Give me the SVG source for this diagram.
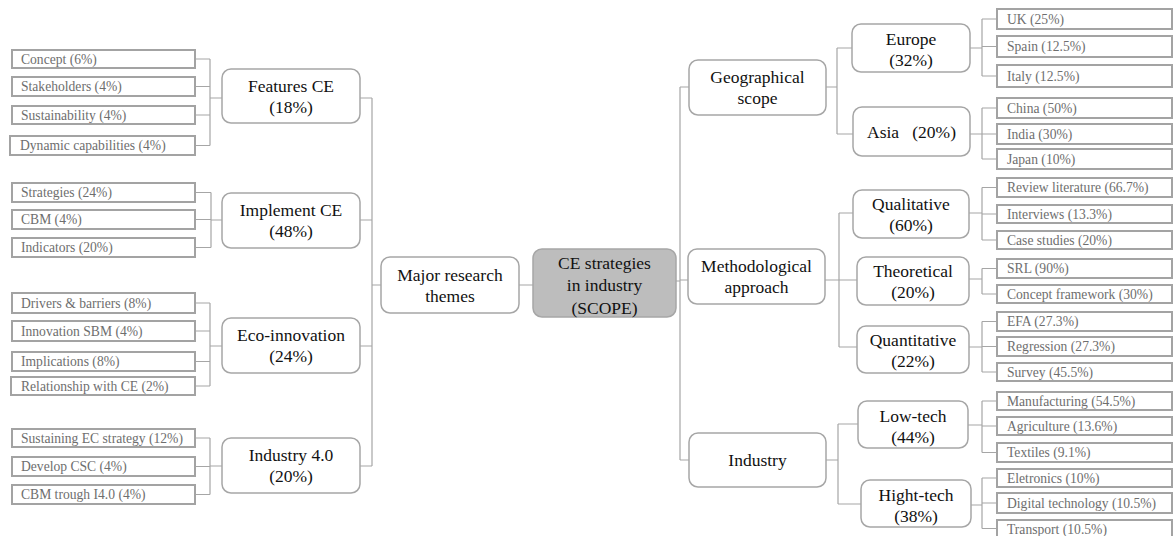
<svg xmlns="http://www.w3.org/2000/svg" width="1174" height="536" viewBox="0 0 1174 536">
<style>
.node{fill:#fff;stroke:#a6a6a6;stroke-width:1.5}
.center{fill:#bdbdbd;stroke:#a6a6a6;stroke-width:1.5}
.leaf{fill:#fff;stroke:#a3a3a3;stroke-width:2}
.nt{font-family:"Liberation Serif","Times New Roman",serif;font-size:17.5px;fill:#111;text-anchor:middle}
.lt{font-family:"Liberation Serif","Times New Roman",serif;font-size:13.6px;fill:#6e6e6e}
.con{fill:none;stroke:#a6a6a6;stroke-width:1.2}
</style>
<rect width="1174" height="536" fill="#fff"/>
<g id="connectors" class="con">
<path d="M195 59H210M195 86.5H210M195 115H210M195 145.5H210M210 59V145.5M210 98H222"/>
<path d="M195 192.5H211M195 219.5H211M195 247.5H211M211 192.5V247.5M211 220H222"/>
<path d="M195 303H210M195 331H210M195 361.5H210M195 386H210M210 303V386M210 346H222"/>
<path d="M195 438H210M195 466.5H210M195 494.5H210M210 438V494.5M210 466H222"/>
<path d="M360 98H372M360 220H372M360 346H372M360 466H372M372 98V466M372 285H381"/>
<path d="M519 285H533M676 281H680M680 87V460M680 87H689M680 280H688M680 460H689"/>
<path d="M826 87H837M837 48V134M837 48H852M837 134H853"/>
<path d="M970 48H982M982 19V76M982 19H997M982 46.5H997M982 76H997"/>
<path d="M970 134H982M982 108V159M982 108H997M982 134H997M982 159H997"/>
<path d="M825 280H839M839 213V347M839 213H853M839 280H857M839 347H857"/>
<path d="M969 213H982M982 187.5V240M982 187.5H997M982 214H997M982 240H997"/>
<path d="M969 279H982M982 268.5V294M982 268.5H997M982 294H997"/>
<path d="M969 347H982M982 321.5V372M982 321.5H997M982 346.5H997M982 372H997"/>
<path d="M826 460H838M838 424V504M838 424H858M838 504H861"/>
<path d="M968 425H982M982 401V452.5M982 401H997M982 426H997M982 452.5H997"/>
<path d="M971 505H982M982 478V528.5M982 478H997M982 503H997M982 528.5H997"/>
</g>
<g id="center"><rect class="center" x="533" y="249" width="143" height="68" rx="9"/><text class="nt" x="604.5" y="268.5">CE strategies</text><text class="nt" x="604.5" y="291">in industry</text><text class="nt" x="604.5" y="313.5">(SCOPE)</text></g>
<g id="major"><rect class="node" x="381" y="257" width="138" height="56" rx="9"/><text class="nt" x="450" y="281">Major research</text><text class="nt" x="450" y="302">themes</text></g>
<g id="features"><rect class="node" x="222" y="69" width="138" height="54" rx="9"/><text class="nt" x="291" y="92">Features CE</text><text class="nt" x="291" y="113">(18%)</text></g>
<g id="implement"><rect class="node" x="222" y="193" width="138" height="55" rx="9"/><text class="nt" x="291" y="216">Implement CE</text><text class="nt" x="291" y="237">(48%)</text></g>
<g id="eco"><rect class="node" x="222" y="318" width="138" height="55" rx="9"/><text class="nt" x="291" y="341">Eco-innovation</text><text class="nt" x="291" y="362">(24%)</text></g>
<g id="i40"><rect class="node" x="222" y="438" width="138" height="55" rx="9"/><text class="nt" x="291" y="461">Industry 4.0</text><text class="nt" x="291" y="482">(20%)</text></g>
<g id="geo"><rect class="node" x="689" y="60" width="137" height="55" rx="9"/><text class="nt" x="757.5" y="83">Geographical</text><text class="nt" x="757.5" y="104">scope</text></g>
<g id="method"><rect class="node" x="688" y="249" width="137" height="55" rx="9"/><text class="nt" x="756.5" y="272">Methodological</text><text class="nt" x="756.5" y="293">approach</text></g>
<g id="industry"><rect class="node" x="689" y="433" width="137" height="54" rx="9"/><text class="nt" x="757.5" y="466">Industry</text></g>
<g id="europe"><rect class="node" x="852" y="24" width="118" height="48" rx="9"/><text class="nt" x="911" y="45">Europe</text><text class="nt" x="911" y="66">(32%)</text></g>
<g id="asia"><rect class="node" x="853" y="107" width="117" height="49" rx="9"/><text class="nt" x="911.5" y="138" xml:space="preserve">Asia   (20%)</text></g>
<g id="qual"><rect class="node" x="853" y="190" width="116" height="48" rx="9"/><text class="nt" x="911" y="210">Qualitative</text><text class="nt" x="911" y="231">(60%)</text></g>
<g id="theo"><rect class="node" x="857" y="257" width="112" height="48" rx="9"/><text class="nt" x="913" y="277">Theoretical</text><text class="nt" x="913" y="298">(20%)</text></g>
<g id="quant"><rect class="node" x="857" y="326" width="112" height="47" rx="9"/><text class="nt" x="913" y="346">Quantitative</text><text class="nt" x="913" y="367">(22%)</text></g>
<g id="lowtech"><rect class="node" x="858" y="401" width="110" height="47" rx="9"/><text class="nt" x="913" y="422">Low-tech</text><text class="nt" x="913" y="443">(44%)</text></g>
<g id="hightech"><rect class="node" x="861" y="480" width="110" height="47" rx="9"/><text class="nt" x="916" y="501">Hight-tech</text><text class="nt" x="916" y="522">(38%)</text></g>
<g id="leaf-concept"><rect class="leaf" x="12" y="50" width="183" height="18"/><text class="lt" x="21" y="63.5">Concept (6%)</text></g>
<g id="leaf-stake"><rect class="leaf" x="12" y="77" width="183" height="19"/><text class="lt" x="21" y="91">Stakeholders (4%)</text></g>
<g id="leaf-sust"><rect class="leaf" x="12" y="106" width="183" height="18"/><text class="lt" x="21" y="119.5">Sustainability (4%)</text></g>
<g id="leaf-dyn"><rect class="leaf" x="10" y="136" width="185" height="19"/><text class="lt" x="20" y="150">Dynamic capabilities (4%)</text></g>
<g id="leaf-strat"><rect class="leaf" x="12" y="183" width="183" height="19"/><text class="lt" x="21" y="197">Strategies (24%)</text></g>
<g id="leaf-cbm"><rect class="leaf" x="12" y="210" width="183" height="19"/><text class="lt" x="21" y="224">CBM (4%)</text></g>
<g id="leaf-ind"><rect class="leaf" x="12" y="238" width="183" height="19"/><text class="lt" x="21" y="252">Indicators (20%)</text></g>
<g id="leaf-drivers"><rect class="leaf" x="12" y="293" width="183" height="20"/><text class="lt" x="21" y="307.5">Drivers &amp; barriers (8%)</text></g>
<g id="leaf-sbm"><rect class="leaf" x="12" y="321" width="183" height="20"/><text class="lt" x="21" y="335.5">Innovation SBM (4%)</text></g>
<g id="leaf-impl"><rect class="leaf" x="12" y="352" width="183" height="19"/><text class="lt" x="21" y="366">Implications (8%)</text></g>
<g id="leaf-rel"><rect class="leaf" x="11" y="377" width="184" height="18"/><text class="lt" x="21" y="390.5">Relationship with CE (2%)</text></g>
<g id="leaf-sustec"><rect class="leaf" x="12" y="429" width="183" height="18"/><text class="lt" x="21" y="442.5">Sustaining EC strategy (12%)</text></g>
<g id="leaf-csc"><rect class="leaf" x="12" y="457" width="183" height="19"/><text class="lt" x="21" y="471">Develop CSC (4%)</text></g>
<g id="leaf-cbmi40"><rect class="leaf" x="12" y="485" width="183" height="19"/><text class="lt" x="21" y="499">CBM trough I4.0 (4%)</text></g>
<g id="leaf-uk"><rect class="leaf" x="997" y="9" width="175" height="20"/><text class="lt" x="1007" y="23.5">UK (25%)</text></g>
<g id="leaf-spain"><rect class="leaf" x="997" y="36" width="175" height="21"/><text class="lt" x="1007" y="51">Spain (12.5%)</text></g>
<g id="leaf-italy"><rect class="leaf" x="997" y="65" width="175" height="22"/><text class="lt" x="1007" y="80.5">Italy (12.5%)</text></g>
<g id="leaf-china"><rect class="leaf" x="997" y="98" width="175" height="20"/><text class="lt" x="1007" y="112.5">China (50%)</text></g>
<g id="leaf-india"><rect class="leaf" x="997" y="124" width="175" height="20"/><text class="lt" x="1007" y="138.5">India (30%)</text></g>
<g id="leaf-japan"><rect class="leaf" x="997" y="149" width="175" height="20"/><text class="lt" x="1007" y="163.5">Japan (10%)</text></g>
<g id="leaf-review"><rect class="leaf" x="997" y="178" width="175" height="19"/><text class="lt" x="1007" y="192">Review literature (66.7%)</text></g>
<g id="leaf-interviews"><rect class="leaf" x="997" y="205" width="175" height="18"/><text class="lt" x="1007" y="218.5">Interviews (13.3%)</text></g>
<g id="leaf-case"><rect class="leaf" x="997" y="231" width="175" height="18"/><text class="lt" x="1007" y="244.5">Case studies (20%)</text></g>
<g id="leaf-srl"><rect class="leaf" x="997" y="259" width="175" height="19"/><text class="lt" x="1007" y="273">SRL (90%)</text></g>
<g id="leaf-cf"><rect class="leaf" x="997" y="285" width="175" height="18"/><text class="lt" x="1007" y="298.5">Concept framework (30%)</text></g>
<g id="leaf-efa"><rect class="leaf" x="997" y="312" width="175" height="19"/><text class="lt" x="1007" y="326">EFA (27.3%)</text></g>
<g id="leaf-reg"><rect class="leaf" x="997" y="337" width="175" height="19"/><text class="lt" x="1007" y="351">Regression (27.3%)</text></g>
<g id="leaf-survey"><rect class="leaf" x="997" y="363" width="175" height="18"/><text class="lt" x="1007" y="376.5">Survey (45.5%)</text></g>
<g id="leaf-manu"><rect class="leaf" x="997" y="392" width="175" height="18"/><text class="lt" x="1007" y="405.5">Manufacturing (54.5%)</text></g>
<g id="leaf-agri"><rect class="leaf" x="997" y="417" width="175" height="18"/><text class="lt" x="1007" y="430.5">Agriculture (13.6%)</text></g>
<g id="leaf-text"><rect class="leaf" x="997" y="443" width="175" height="19"/><text class="lt" x="1007" y="457">Textiles (9.1%)</text></g>
<g id="leaf-elec"><rect class="leaf" x="997" y="469" width="175" height="18"/><text class="lt" x="1007" y="482.5">Eletronics (10%)</text></g>
<g id="leaf-digi"><rect class="leaf" x="997" y="493" width="175" height="20"/><text class="lt" x="1007" y="507.5">Digital technology (10.5%)</text></g>
<g id="leaf-trans"><rect class="leaf" x="997" y="520" width="175" height="18"/><text class="lt" x="1007" y="533.5">Transport (10.5%)</text></g>
</svg>
